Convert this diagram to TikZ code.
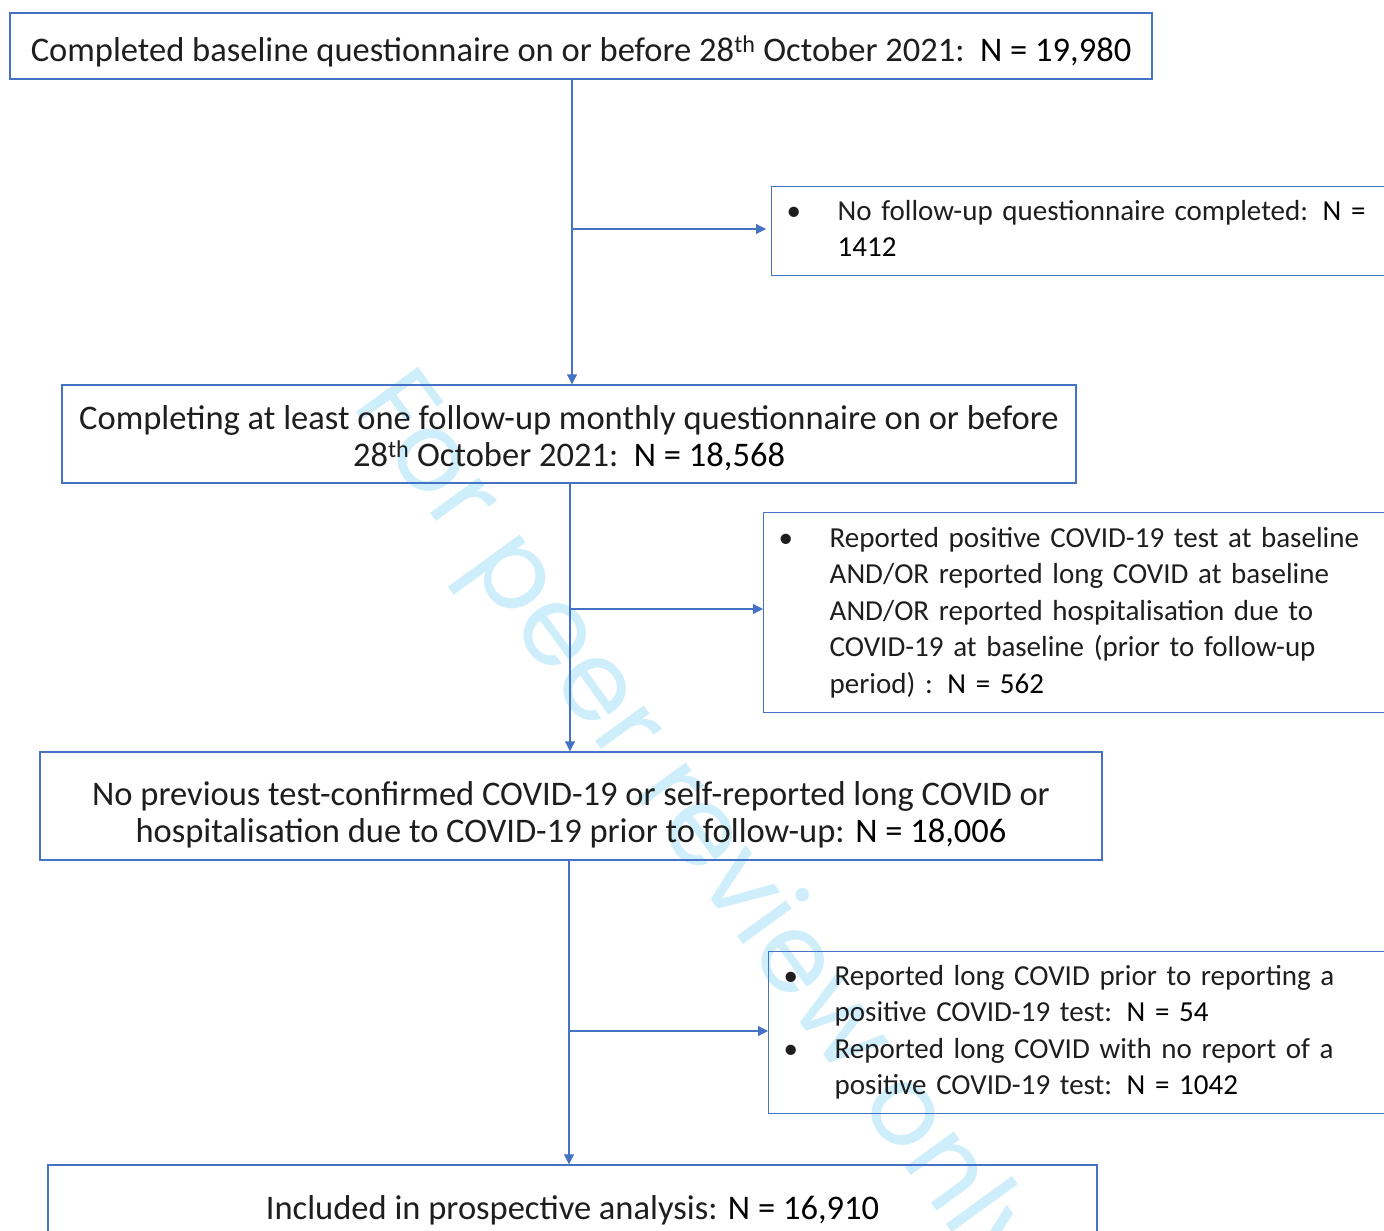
\documentclass[tikz,border=0pt]{standalone}
\usepackage{fontspec}
\setmainfont{Carlito}
\newfontfamily\wmfont{Poppins}
\usetikzlibrary{arrows.meta}
\definecolor{obl}{RGB}{68,114,196}
\definecolor{wm}{RGB}{206,238,251}
\definecolor{txt}{RGB}{30,30,30}
\newcommand\fsz{\fontsize{29}{36.5}\selectfont}
\newcommand\fbig{\fontsize{34.5}{37}\selectfont}
\newcommand\nb[1]{{\color{black}#1}}
\tikzset{
  frame/.style={draw=obl, line width=1.4pt, inner sep=0pt},
  maintext/.style={inner sep=0pt, align=center, font=\fbig, text=txt},
  sidebox/.style={draw=obl, line width=1.4pt, inner xsep=15pt, inner ysep=0pt, anchor=north west, align=left, font=\fsz, text=txt},
  conn/.style={draw=obl, line width=1.1pt, -{Triangle[length=10pt,width=10pt]}}
}
\begin{document}
\begin{tikzpicture}[x=1pt,y=-1pt]
\useasboundingbox (0,0) rectangle (1384,1231);
\clip (0,0) rectangle (1384,1231);
\fill[white] (0,0) rectangle (1384,1231);
% watermark
\node[rotate=-54, text=wm, font=\wmfont\fontsize{110}{110}\selectfont] (wmk) at (695,831) {For peer review only};
% main boxes
\node[frame, minimum width=1142pt, minimum height=66pt] (a) at (581,46) {};
\node[maintext] (at) at ([yshift=-5pt]a.center)
  {Completed baseline questionnaire on or before 28\textsuperscript{th} October 2021:\ \ \nb{N = 19,980}};
\node[frame, minimum width=1014pt, minimum height=98pt] (c) at (569,434) {};
\node[maintext] (ct) at ([yshift=-4pt]c.center)
  {Completing at least one follow-up monthly questionnaire on or before\\28\textsuperscript{th} October 2021:\ \ \nb{N = 18,568}};
\node[frame, minimum width=1062pt, minimum height=108pt] (e) at (571,806) {};
\node[maintext] (et) at ([yshift=-9pt]e.center)
  {No previous test-confirmed COVID-19 or self-reported long COVID or\\hospitalisation due to COVID-19 prior to follow-up: \nb{N = 18,006}};
\node[frame, minimum width=1049pt, minimum height=88pt] (g) at (572.5,1209) {};
\node[maintext] (gt) at ([yshift=-1pt]g.center)
  {Included in prospective analysis: \nb{N = 16,910}};
% side boxes
\node[sidebox, text width=610pt, minimum height=89pt] (b) at (771,186)
  {\begin{tabular}{@{}p{51pt}@{}l@{}}\textbullet & No follow-up questionnaire completed: \nb{N =}\\ & \nb{1412}\end{tabular}};
\node[sidebox, text width=630pt, minimum height=200pt] (d) at (763,512)
  {\begin{tabular}{@{}p{51pt}@{}l@{}}\textbullet & Reported positive COVID-19 test at baseline\\
   & AND/OR reported long COVID at baseline\\
   & AND/OR reported hospitalisation due to\\
   & COVID-19 at baseline (prior to follow-up\\
   & period) : \nb{N = 562}\end{tabular}};
\node[sidebox, text width=630pt, minimum height=162pt] (f) at (768,951)
  {\begin{tabular}{@{}p{51pt}@{}l@{}}\textbullet & Reported long COVID prior to reporting a\\
   & positive COVID-19 test: \nb{N = 54}\\
   \textbullet & Reported long COVID with no report of a\\
   & positive COVID-19 test: \nb{N = 1042}\end{tabular}};
% connectors
\coordinate (t1) at (572,229);
\coordinate (t2) at (570,609);
\coordinate (t3) at (569,1031);
\draw[conn] (a.south -| t1) -- (c.north -| t1);
\draw[conn, shorten >=5pt] (t1) -- (b.west |- t1);
\draw[conn] (c.south -| t2) -- (e.north -| t2);
\draw[conn] (t2) -- (d.west |- t2);
\draw[conn] (e.south -| t3) -- (g.north -| t3);
\draw[conn] (t3) -- (f.west |- t3);
\end{tikzpicture}
\end{document}
